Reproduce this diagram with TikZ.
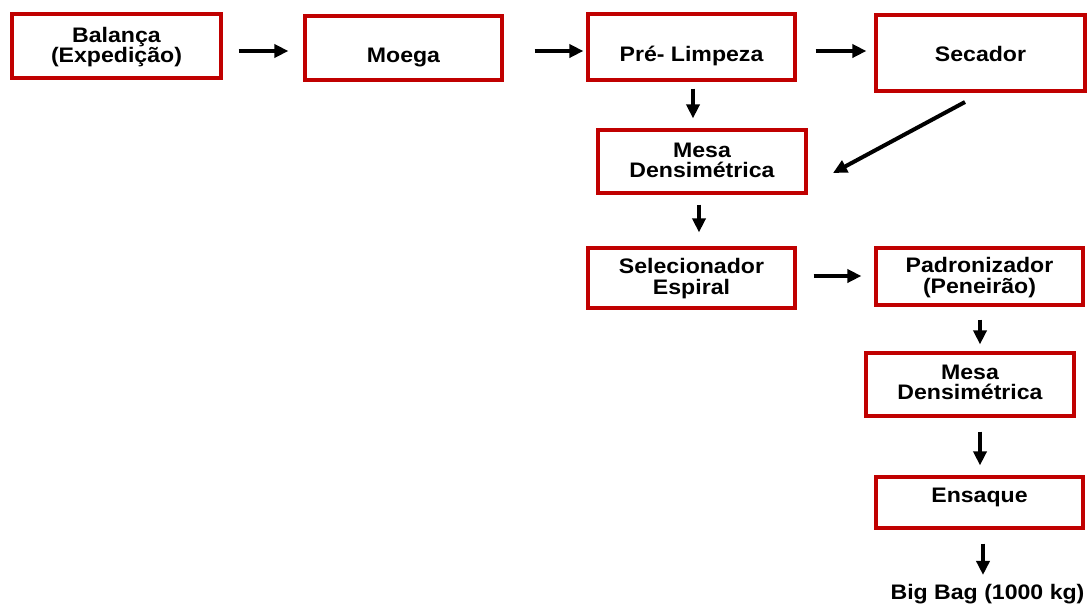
\documentclass[tikz,border=0pt]{standalone}
\usepackage{fontspec}
\setmainfont[FakeStretch=1.1]{Liberation Sans}
\usetikzlibrary{arrows.meta,calc}
\definecolor{boxred}{RGB}{192,0,0}
\begin{document}
\begin{tikzpicture}[x=1pt,y=-1pt,
  stepbox/.style={draw=boxred,line width=3.2pt,fill=white,inner sep=0pt},
  txt/.style={inner sep=0pt,align=center,font=\fontsize{21}{20.5}\selectfont\bfseries},
  arr/.style={line width=4pt,-{Triangle[length=14pt,width=13pt]}}]
\useasboundingbox (0,0) rectangle (1089,608);
\node[stepbox,minimum width=209pt,minimum height=64pt,
  label={[txt,yshift=-1pt,name=tbal]center:Balança\\(Expedição)}] (bal) at (116.5,46) {};
\node[stepbox,minimum width=197pt,minimum height=64pt,
  label={[txt,yshift=-9pt,name=tmoe]center:Moega}] (moe) at (403.5,48) {};
\node[stepbox,minimum width=207pt,minimum height=66pt,
  label={[txt,yshift=-9pt,name=tpre]center:Pré- Limpeza}] (pre) at (691.5,47) {};
\node[stepbox,minimum width=209pt,minimum height=76pt,
  label={[txt,yshift=-1pt,name=tsec]center:Secador}] (sec) at (980.5,53) {};
\node[stepbox,minimum width=208pt,minimum height=63pt,
  label={[txt,yshift=1pt,name=tme1]center:Mesa\\Densimétrica}] (me1) at (702,161.5) {};
\node[stepbox,minimum width=207pt,minimum height=60pt,
  label={[txt,yshift=-0.5pt,name=tsel]center:Selecionador\\Espiral}] (sel) at (691.5,278) {};
\node[stepbox,minimum width=207pt,minimum height=57pt,
  label={[txt,yshift=-1pt,name=tpad]center:Padronizador\\(Peneirão)}] (pad) at (979.5,276.5) {};
\node[stepbox,minimum width=208pt,minimum height=63pt,
  label={[txt,yshift=2pt,name=tme2]center:Mesa\\Densimétrica}] (me2) at (970,384.5) {};
\node[stepbox,minimum width=207pt,minimum height=51pt,
  label={[txt,yshift=5pt,name=tens]center:Ensaque}] (ens) at (979.5,502.5) {};
\node[txt] (big) at (987.5,594) {Big Bag (1000 kg)};
\draw[arr,shorten <=16pt,shorten >=15pt] (bal.east|-0,51) -- (moe.west|-0,51);
\draw[arr,shorten <=31pt,shorten >=3pt] (moe.east|-0,51) -- (pre.west|-0,51);
\draw[arr,shorten <=19pt,shorten >=8pt] (pre.east|-0,51) -- (sec.west|-0,51);
\draw[arr,shorten <=7pt,shorten >=10pt] (pre.south-|693,0) -- (me1.north-|693,0);
\coordinate (dgs) at (965,102);
\coordinate (dge) at (833,173);
\draw[arr] (dgs) -- (dge);
\draw[arr,shorten <=10pt,shorten >=14pt] (me1.south-|699,0) -- (sel.north-|699,0);
\draw[arr,shorten <=17pt,shorten >=13pt] (sel.east|-0,276) -- (pad.west|-0,276);
\draw[arr,shorten <=13pt,shorten >=7pt] (pad.south-|980,0) -- (me2.north-|980,0);
\draw[arr,shorten <=14pt,shorten >=10pt] (me2.south-|980,0) -- (ens.north-|980,0);
\draw[arr,shorten <=14pt,shorten >=9pt] (ens.south-|983,0) -- (big.north-|983,0);
\end{tikzpicture}
\end{document}
